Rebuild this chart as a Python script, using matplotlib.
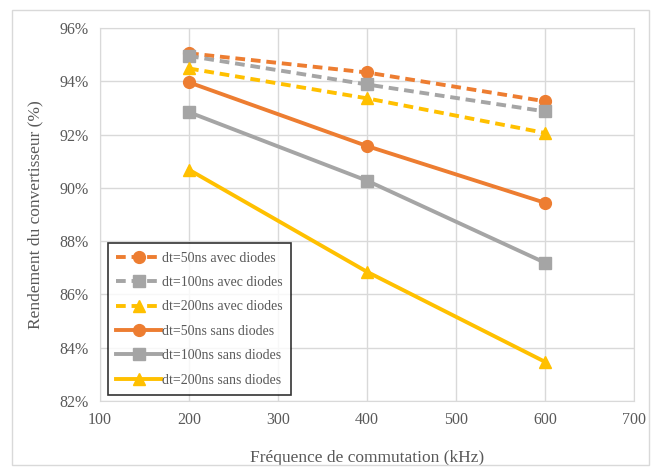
import matplotlib.pyplot as plt
from matplotlib.patches import Rectangle
from matplotlib.ticker import FuncFormatter

plt.rcParams['font.family'] = ['Liberation Serif', 'DejaVu Serif']

# frequences (kHz)
freq = [200, 400, 600]

# rendement (%)
avec_50 = [95.05, 94.33, 93.25]
avec_100 = [94.95, 93.88, 92.87]
avec_200 = [94.48, 93.36, 92.06]
sans_50 = [93.96, 91.57, 89.44]
sans_100 = [92.84, 90.27, 87.19]
sans_200 = [90.68, 86.85, 83.47]

orange = '#ED7D31'
gris = '#A5A5A5'
jaune = '#FFC000'
txt = '#595959'

fig = plt.figure(figsize=(6.53, 4.68), dpi=100)
ax = fig.add_axes([100/653, 1 - 401/468, 534/653, 373/468])

# cadre du graphique (style Excel)
fig.patches.append(Rectangle((12/653, 3/468), 637/653, 455/468, transform=fig.transFigure,
                             fill=False, edgecolor='#D9D9D9', linewidth=1))

dash = (0, (2.5, 1.5))
lw = 2.8
ms = 8.5

ax.plot(freq, avec_50, color=orange, lw=lw, ls=dash, marker='o', ms=ms, label='dt=50ns avec diodes')
ax.plot(freq, avec_100, color=gris, lw=lw, ls=dash, marker='s', ms=ms - 0.5, label='dt=100ns avec diodes')
ax.plot(freq, avec_200, color=jaune, lw=lw, ls=dash, marker='^', ms=ms, label='dt=200ns avec diodes')
ax.plot(freq, sans_50, color=orange, lw=lw, marker='o', ms=ms, label='dt=50ns sans diodes')
ax.plot(freq, sans_100, color=gris, lw=lw, marker='s', ms=ms - 0.5, label='dt=100ns sans diodes')
ax.plot(freq, sans_200, color=jaune, lw=lw, marker='^', ms=ms, label='dt=200ns sans diodes')

ax.set_xlim(100, 700)
ax.set_ylim(82, 96)
ax.set_xticks(range(100, 701, 100))
ax.set_yticks(range(82, 97, 2))
ax.yaxis.set_major_formatter(FuncFormatter(lambda v, p: '%d%%' % v))
ax.grid(True, color='#D9D9D9', lw=1)
ax.set_axisbelow(True)
for s in ax.spines.values():
    s.set_color('#D9D9D9')
ax.tick_params(length=0, labelsize=11.5, colors=txt, pad=8)

ax.set_xlabel('Fréquence de commutation (kHz)', fontsize=12.5, color=txt, labelpad=16)
ax.set_ylabel('Rendement du convertisseur (%)', fontsize=12.5, color=txt, labelpad=12)

leg = ax.legend(loc='lower left', bbox_to_anchor=(8/534, 6/373), borderaxespad=0, fontsize=10,
                frameon=True, fancybox=False, edgecolor='black', handlelength=3.2,
                handletextpad=0.1, labelspacing=0.82, borderpad=0.6, labelcolor=txt)
leg.get_frame().set_linewidth(1.2)

fig.savefig('out.png', dpi=100)
